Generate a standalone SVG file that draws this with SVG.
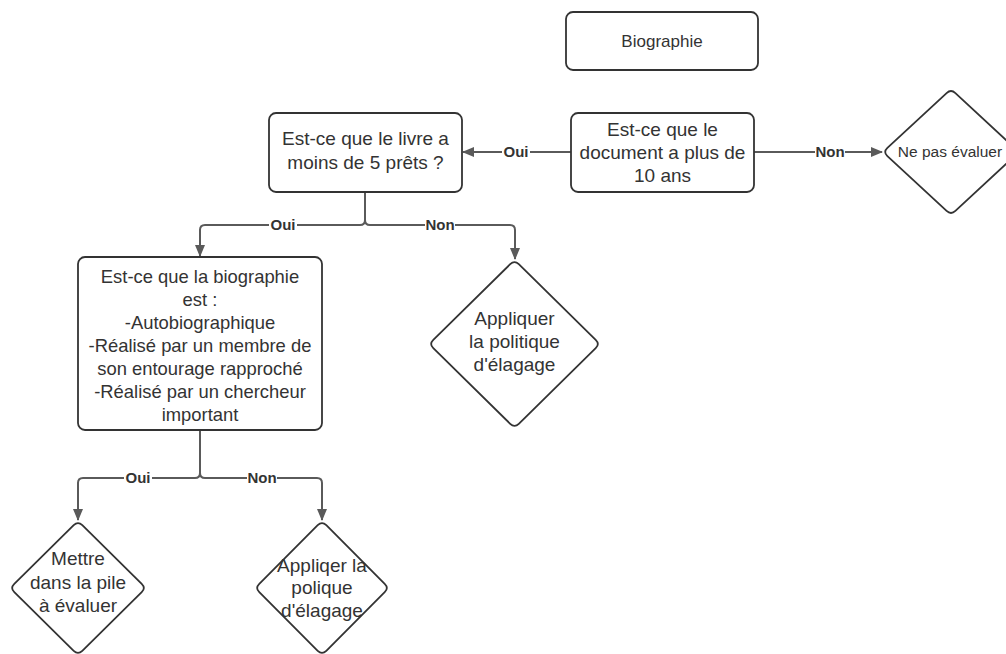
<svg xmlns="http://www.w3.org/2000/svg" width="1006" height="654" viewBox="0 0 1006 654">
<style>
.box{fill:#fff;stroke:#333;stroke-width:1.8}
.t{font-family:"Liberation Sans",Arial,sans-serif;fill:#333;text-anchor:middle}
.t19{font-size:19px}
.t18{font-size:18.4px}
.con{fill:none;stroke:#5a5a5a;stroke-width:2}
.lbl{font-family:"Liberation Sans",Arial,sans-serif;font-weight:bold;font-size:15px;fill:#333;text-anchor:middle}
.lb{fill:#fff}
</style>
<defs>
<marker id="ah" markerWidth="12" markerHeight="12" refX="11" refY="5" orient="auto" markerUnits="userSpaceOnUse">
<path d="M0,0 L12,5 L0,10 Z" fill="#5a5a5a"/>
</marker>
</defs>
<rect width="1006" height="654" fill="#fff"/>
<g id="connectors">
<path class="con" d="M571,152 H463" marker-end="url(#ah)"/>
<path class="con" d="M754,152 H882" marker-end="url(#ah)"/>
<path class="con" d="M365,192 V220 Q365,225 360,225 H205 Q200,225 200,230 V256" marker-end="url(#ah)"/>
<path class="con" d="M365,192 V220 Q365,225 370,225 H510 Q515,225 515,230 V259" marker-end="url(#ah)"/>
<path class="con" d="M200,430 V473 Q200,478 195,478 H83 Q78,478 78,483 V520" marker-end="url(#ah)"/>
<path class="con" d="M200,430 V473 Q200,478 205,478 H317 Q322,478 322,483 V520" marker-end="url(#ah)"/>
<rect class="lb" x="502" y="144" width="28" height="16"/>
<text class="lbl" x="516" y="157">Oui</text>
<rect class="lb" x="815" y="144" width="30" height="16"/>
<text class="lbl" x="830" y="157">Non</text>
<rect class="lb" x="269" y="217" width="28" height="16"/>
<text class="lbl" x="283" y="230">Oui</text>
<rect class="lb" x="425" y="217" width="30" height="16"/>
<text class="lbl" x="440" y="230">Non</text>
<rect class="lb" x="124" y="470" width="28" height="16"/>
<text class="lbl" x="138" y="483">Oui</text>
<rect class="lb" x="247" y="470" width="30" height="16"/>
<text class="lbl" x="262" y="483">Non</text>
</g>
<g id="biographie">
<rect class="box" x="566" y="12" width="192" height="58" rx="7"/>
<text class="t" x="662" y="47" font-size="17">Biographie</text>
</g>
<g id="document">
<rect class="box" x="571" y="113" width="183" height="79" rx="7"/>
<text class="t t19" x="662.5" y="136">Est-ce que le</text>
<text class="t t19" x="662.5" y="159">document a plus de</text>
<text class="t t19" x="662.5" y="182">10 ans</text>
</g>
<g id="ne-pas-evaluer">
<path class="box" d="M946.6,93.1 Q951,89 955.4,93.1 L1014.6,147.9 Q1019,152 1014.6,156.1 L955.4,210.9 Q951,215 946.6,210.9 L887.4,156.1 Q883,152 887.4,147.9 Z"/>
<text class="t" x="950" y="157" font-size="15.5">Ne pas évaluer</text>
</g>
<g id="livre">
<rect class="box" x="269" y="113" width="193" height="79" rx="7"/>
<text class="t t19" x="365.5" y="145">Est-ce que le livre a</text>
<text class="t t19" x="365.5" y="169">moins de 5 prêts ?</text>
</g>
<g id="bio-question">
<rect class="box" x="78" y="257" width="244" height="173" rx="7"/>
<text class="t t18" x="200" y="283">Est-ce que la biographie</text>
<text class="t t18" x="200" y="306">est :</text>
<text class="t t18" x="200" y="329">-Autobiographique</text>
<text class="t t18" x="200" y="352">-Réalisé par un membre de</text>
<text class="t t18" x="200" y="375">son entourage rapproché</text>
<text class="t t18" x="200" y="398">-Réalisé par un chercheur</text>
<text class="t t18" x="200" y="421">important</text>
</g>
<g id="appliquer-politique">
<path class="box" d="M510.2,264.2 Q514.5,260 518.8,264.2 L595.7,339.8 Q600,344 595.7,348.2 L518.8,423.8 Q514.5,428 510.2,423.8 L433.3,348.2 Q429,344 433.3,339.8 Z"/>
<text class="t t19" x="514.5" y="325">Appliquer</text>
<text class="t t19" x="514.5" y="348">la politique</text>
<text class="t t19" x="514.5" y="371">d'élagage</text>
</g>
<g id="mettre-pile">
<path class="box" d="M73.7,525.2 Q78,521 82.3,525.2 L141.7,583.8 Q146,588 141.7,592.2 L82.3,650.8 Q78,655 73.7,650.8 L14.3,592.2 Q10,588 14.3,583.8 Z"/>
<text class="t t19" x="78" y="565">Mettre</text>
<text class="t t19" x="78" y="589">dans la pile</text>
<text class="t t19" x="78" y="612">à évaluer</text>
</g>
<g id="appliqer-polique">
<path class="box" d="M317.7,525.2 Q322,521 326.3,525.2 L384.7,583.8 Q389,588 384.7,592.2 L326.3,650.8 Q322,655 317.7,650.8 L259.3,592.2 Q255,588 259.3,583.8 Z"/>
<text class="t t19" x="322" y="572">Appliqer la</text>
<text class="t t19" x="322" y="594">polique</text>
<text class="t t19" x="322" y="617">d'élagage</text>
</g>
</svg>
